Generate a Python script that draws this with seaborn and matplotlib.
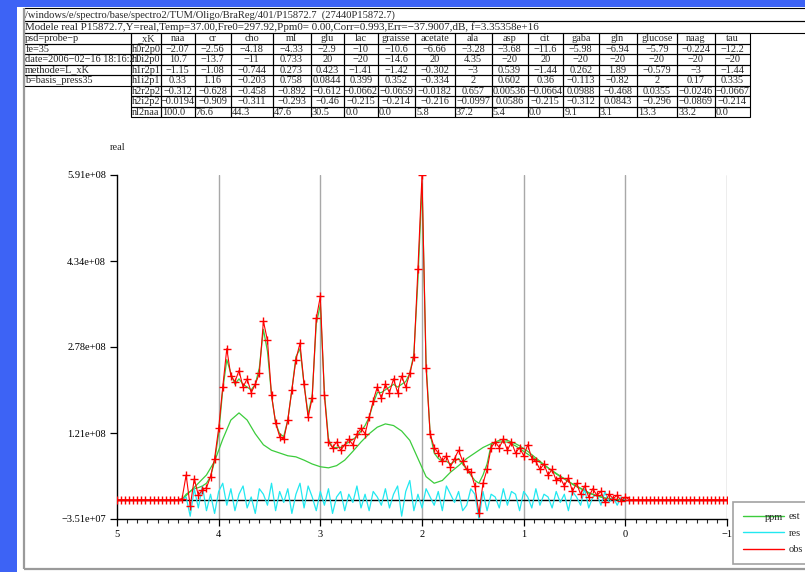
import numpy as np
import matplotlib
matplotlib.use("Agg")
import matplotlib.pyplot as plt
from matplotlib.patches import Rectangle
from matplotlib.lines import Line2D
import seaborn as sns

# ------------------------------------------------------------------ data
path_line = "/windows/e/spectro/base/spectro2/TUM/Oligo/BraReg/401/P15872.7  (27440P15872.7)"
model_line = ("Modele real P15872.7,Y=real,Temp=37.00,Fre0=297.92,Ppm0= 0.00,"
              "Corr=0.993,Err=\u221237.9007,dB, f=3.35358e+16")
info_lines = ["psd=probe\u2212p", "fe=35", "date=2006\u221202\u221216 18:16:21",
              "methode=L_xK", "b=basis_press35"]

metabolites = ["naa", "cr", "cho", "mI", "glu", "lac", "graisse", "acetate", "ala",
               "asp", "cit", "gaba", "gln", "glucose", "naag", "tau"]
row_labels = ["h0r2p0", "h0i2p0", "h1r2p1", "h1i2p1", "h2r2p2", "h2i2p2", "nl2naa"]
h0r2p0 = [-2.07, -2.56, -4.18, -4.33, -2.9, -10, -10.6, -6.66, -3.28, -3.68, -11.6, -5.98, -6.94, -5.79, -0.224, -12.2]
h0i2p0 = [10.7, -13.7, -11, 0.733, 20, -20, -14.6, 20, 4.35, -20, 20, -20, -20, -20, -20, -20]
h1r2p1 = [-1.15, -1.08, -0.744, 0.273, 0.423, -1.41, -1.42, -0.302, -3, 0.539, -1.44, 0.262, 1.89, -0.579, -3, -1.44]
h1i2p1 = [0.33, 1.16, -0.203, 0.758, 0.0844, 0.399, 0.352, -0.334, 2, 0.602, 0.36, -0.113, -0.82, 2, 0.17, 0.335]
h2r2p2 = [-0.312, -0.628, -0.458, -0.892, -0.612, -0.0662, -0.0659, -0.0182, 0.657, 0.00536, -0.0664, 0.0988, -0.468, 0.0355, -0.0246, -0.0667]
h2i2p2 = [-0.0194, -0.909, -0.311, -0.293, -0.46, -0.215, -0.214, -0.216, -0.0997, 0.0586, -0.215, -0.312, 0.0843, -0.296, -0.0869, -0.214]
nl2naa = [100.0, 76.6, 44.3, 47.6, 30.5, 0.0, 0.0, 5.8, 37.2, 5.4, 0.0, 9.1, 3.1, 13.3, 33.2, 0.0]

# spectrum, ppm axis sampled every 0.04 from 5 to -1 (values in 1e8)
ppm = np.round(np.linspace(5.0, -1.0, 151), 2)
obs_e8 = [0.0, 0.0, 0.0, 0.0, 0.0, 0.0, 0.0, 0.0, 0.0, 0.0, 0.0, 0.0, 0.0, 0.0, 0.0, 0.0,
          0.02, 0.45, -0.12, 0.38, 0.08, 0.18, 0.22, 0.42, 0.75, 1.30,
          2.05, 2.75, 2.25, 2.15, 2.35, 2.05, 2.20, 1.95, 2.10, 2.30,
          3.25, 2.90, 1.90, 1.40, 1.15, 1.10, 1.45, 2.00, 2.55, 2.85,
          2.10, 1.50, 1.85, 3.30, 3.70, 1.90, 1.05, 0.95, 1.05, 0.90,
          1.00, 1.10, 1.00, 1.20, 1.30, 1.20, 1.50, 1.80, 2.05, 1.85,
          2.10, 1.95, 2.20, 1.95, 2.25, 2.05, 2.30, 2.60, 4.20, 5.91,
          2.40, 1.20, 0.95, 0.85, 0.70, 0.80, 0.60, 0.75, 0.90, 0.70,
          0.55, 0.50, 0.25, -0.25, 0.30, 0.55, 0.95, 1.05, 0.95, 1.10,
          0.90, 1.05, 0.85, 0.95, 0.80, 1.00, 0.75, 0.70, 0.55, 0.65,
          0.45, 0.55, 0.35, 0.40, 0.25, 0.40, 0.15, 0.30, 0.10, 0.25,
          0.05, 0.20, 0.08, 0.15, -0.05, 0.10, 0.02, 0.08, -0.02, 0.05,
          0.0, 0.0, 0.0, 0.0, 0.0, 0.0, 0.0, 0.0, 0.0, 0.0, 0.0, 0.0, 0.0,
          0.0, 0.0, 0.0, 0.0, 0.0, 0.0, 0.0, 0.0, 0.0, 0.0, 0.0, 0.0]
ppm_fit = ppm[16:126]
est_e8 = [0.00, 0.10, 0.15, 0.20, 0.22, 0.25, 0.30, 0.42, 0.70, 1.20,
          2.00, 2.55, 2.30, 2.10, 2.20, 2.10, 2.05, 2.00, 2.10, 2.40,
          3.10, 2.70, 1.90, 1.40, 1.20, 1.15, 1.45, 2.00, 2.60, 2.75,
          2.10, 1.55, 1.90, 3.20, 3.55, 1.95, 1.10, 0.95, 0.95, 0.95,
          1.00, 1.05, 1.10, 1.15, 1.25, 1.35, 1.50, 1.75, 1.95, 1.95,
          2.00, 2.05, 2.10, 2.05, 2.10, 2.15, 2.30, 2.65, 4.00, 5.75,
          2.50, 1.20, 0.85, 0.75, 0.70, 0.70, 0.65, 0.70, 0.75, 0.65,
          0.55, 0.45, 0.35, 0.30, 0.45, 0.65, 1.00, 1.05, 1.08, 1.10,
          1.08, 1.05, 1.02, 0.98, 0.93, 0.88, 0.82, 0.76, 0.70, 0.64,
          0.58, 0.52, 0.47, 0.42, 0.38, 0.33, 0.29, 0.25, 0.21, 0.17,
          0.13, 0.10, 0.07, 0.05, 0.03, 0.02, 0.01, 0.00, 0.00, 0.00]
res_e8 = [0.00, 0.05, -0.30, 0.20, -0.15, 0.25, -0.20, 0.10, -0.25, 0.15,
          0.30, -0.10, 0.20, -0.20, 0.10, 0.25, -0.15, 0.05, -0.25, 0.20,
          0.10, -0.10, 0.30, -0.20, 0.15, -0.05, 0.20, -0.25, 0.10, 0.30,
          -0.15, 0.25, 0.05, -0.20, 0.15, -0.10, 0.20, -0.25, 0.05, 0.15,
          -0.20, 0.10, -0.05, 0.25, -0.15, 0.10, -0.20, 0.15, 0.05, -0.10,
          0.20, -0.15, 0.10, 0.25, -0.30, 0.15, 0.35, -0.20, 0.10, -0.15,
          0.20, 0.05, -0.10, 0.15, -0.20, 0.25, 0.10, -0.05, 0.15, -0.20,
          -0.10, 0.20, 0.10, -0.351, 0.15, -0.20, 0.10, 0.05, -0.15, 0.20,
          -0.10, 0.15, 0.10, -0.20, 0.15, 0.05, -0.15, 0.20, -0.10, 0.10,
          0.05, -0.15, 0.15, -0.05, 0.10, -0.20, 0.15, 0.05, -0.10, 0.20,
          -0.15, 0.05, 0.10, -0.10, 0.15, -0.05, 0.05, -0.10, 0.05, 0.00]
ppm_base = ppm_fit[::2]
base_e8 = [0.00, 0.15, 0.30, 0.45, 0.70, 1.10, 1.45, 1.58, 1.45, 1.20,
           1.00, 0.90, 0.85, 0.80, 0.78, 0.72, 0.65, 0.60, 0.58, 0.62,
           0.72, 0.88, 1.05, 1.20, 1.32, 1.38, 1.35, 1.25, 1.08, 0.75,
           0.42, 0.30, 0.35, 0.50, 0.62, 0.75, 0.85, 0.95, 1.02, 1.05,
           1.05, 0.98, 0.88, 0.78, 0.68, 0.58, 0.48, 0.38, 0.28, 0.20,
           0.12, 0.07, 0.03, 0.01, 0.00]

y_ticks = [-3.51e7, 1.21e8, 2.78e8, 4.34e8, 5.91e8]
x_ticks = [5, 4, 3, 2, 1, 0, -1]
legend_labels = ["est", "res", "obs"]

# ------------------------------------------------------------------ style
sns.set_style("ticks")
SERIF = ["Liberation Serif", "DejaVu Serif"]
plt.rcParams["font.family"] = SERIF
plt.rcParams["axes.unicode_minus"] = True

W, H = 805, 572
fig = plt.figure(figsize=(W / 100, H / 100), dpi=100)
fig.patch.set_facecolor("#3d63f5")

bg = fig.add_axes([0, 0, 1, 1], zorder=0)
bg.set_xlim(0, W)
bg.set_ylim(H, 0)
bg.axis("off")
bg.add_patch(Rectangle((17, 7), W, H, facecolor="white", edgecolor="none"))
bg.plot([24, 24], [8, 569], color="#9a9a9a", lw=1.6, solid_capstyle="butt")
bg.plot([24, W + 2], [569, 569], color="#9a9a9a", lw=1.6, solid_capstyle="butt")

# header lines
FS_T = 7.4
bg.add_patch(Rectangle((24, 8), W, 13, fill=False, edgecolor="black", lw=0.8))
bg.add_patch(Rectangle((24, 21), W, 12, fill=False, edgecolor="black", lw=0.8))
bg.text(25, 14.8, path_line, fontsize=7.6, va="center", ha="left")
bg.text(25, 27.3, model_line, fontsize=7.9, va="center", ha="left")

# table
top, rh = 33, 10.5
met_w = [33.5, 36, 42, 38, 33.5, 33.5, 37.5, 39.5, 37, 36, 35.5, 35.5, 38, 40.5, 37.5, 35.5]
left_x0, left_x1, xk_x1 = 24, 131, 161
edges = [xk_x1]
for w in met_w:
    edges.append(edges[-1] + w)

def cell(x0, x1, r, txt, align="center"):
    y0 = top + r * rh
    bg.add_patch(Rectangle((x0, y0), x1 - x0, rh, fill=False, edgecolor="black", lw=0.8))
    if align == "center":
        bg.text((x0 + x1) / 2, y0 + rh / 2 + 0.5, txt, fontsize=FS_T, ha="center", va="center")
    else:
        bg.text(x0 + 1.2, y0 + rh / 2 + 0.5, txt, fontsize=FS_T, ha="left", va="center")

def fmt(v):
    return ("%.3g" % v).replace("-", "\u2212")

for r, t in enumerate(info_lines):
    cell(left_x0, left_x1, r, t, align="left")
cell(left_x1, xk_x1, 0, "_xK")
for r, lab in enumerate(row_labels):
    cell(left_x1, xk_x1, r + 1, lab, align="left")
rows = [h0r2p0, h0i2p0, h1r2p1, h1i2p1, h2r2p2, h2i2p2]
for j, m in enumerate(metabolites):
    cell(edges[j], edges[j + 1], 0, m)
    for r, vals in enumerate(rows):
        cell(edges[j], edges[j + 1], r + 1, fmt(vals[j]))
    cell(edges[j], edges[j + 1], 7, "%.1f" % nl2naa[j], align="left")

# ------------------------------------------------------------------ main plot
ax = fig.add_axes([117 / W, 1 - 519 / H, 610 / W, 344 / H], zorder=1)
ax.set_facecolor("none")

for xv in x_ticks[1:]:
    ax.axvline(xv, color="#a8a8a8", lw=1.0, zorder=0)
ax.axhline(0, color="black", lw=1.0, zorder=1)

obs = np.array(obs_e8) * 1e8
est = np.array(est_e8) * 1e8
res = np.array(res_e8) * 1e8
base = np.array(base_e8) * 1e8

sns.lineplot(x=ppm_base, y=base, ax=ax, color="#3ccc3c", lw=0.9, estimator=None, sort=False, zorder=2)
sns.lineplot(x=ppm_fit, y=est, ax=ax, color="#3ccc3c", lw=0.9, estimator=None, sort=False, zorder=2)
sns.lineplot(x=ppm_fit, y=res, ax=ax, color="#22e8f0", lw=0.9, estimator=None, sort=False, zorder=3)
sns.lineplot(x=ppm, y=obs, ax=ax, color="#ff0000", lw=0.8, marker="+", markersize=6,
             markeredgewidth=1.0, markeredgecolor="#ff0000", estimator=None, sort=False, zorder=4)

ax.set_xlim(5, -1)
ax.set_ylim(y_ticks[0], y_ticks[-1])
ax.set_xticks(x_ticks)
ax.set_xticklabels([str(v).replace("-", "\u2212") for v in x_ticks])
ax.set_xticks(np.round(np.arange(-1.0, 5.0001, 0.1), 1), minor=True)
ax.set_yticks(y_ticks)
ax.set_yticklabels([fmt(v) for v in y_ticks])
ax.tick_params(axis="both", which="major", direction="out", length=5, width=0.9,
               labelsize=7.5, colors="black", pad=3)
ax.tick_params(axis="x", which="minor", direction="out", length=3, width=0.8)
ax.set_xlabel("")
ax.set_ylabel("")
for s in ["top", "right"]:
    ax.spines[s].set_visible(False)
for s in ["left", "bottom"]:
    ax.spines[s].set_color("black")
    ax.spines[s].set_linewidth(1.0)

bg.text(118, 147, "real", fontsize=7.5, ha="center", va="center")

handles = [Line2D([], [], color="#3ccc3c", lw=1.0),
           Line2D([], [], color="#22e8f0", lw=1.0),
           Line2D([], [], color="#ff0000", lw=1.0)]
leg = fig.legend(handles, legend_labels, loc="upper left",
                 bbox_to_anchor=(733 / W, 1 - 502 / H), frameon=True, fancybox=False,
                 fontsize=7.5, handlelength=3.9, handletextpad=0.5, labelspacing=0.7,
                 borderpad=0.95, borderaxespad=0)
leg.get_frame().set_edgecolor("#8a8a8a")
leg.get_frame().set_linewidth(1.2)
leg.set_zorder(5)
fig.text(783 / W, 1 - 517 / H, "ppm", fontsize=7.5, ha="right", va="center", zorder=10)

fig.savefig("out.png", dpi=100, facecolor=fig.get_facecolor())
